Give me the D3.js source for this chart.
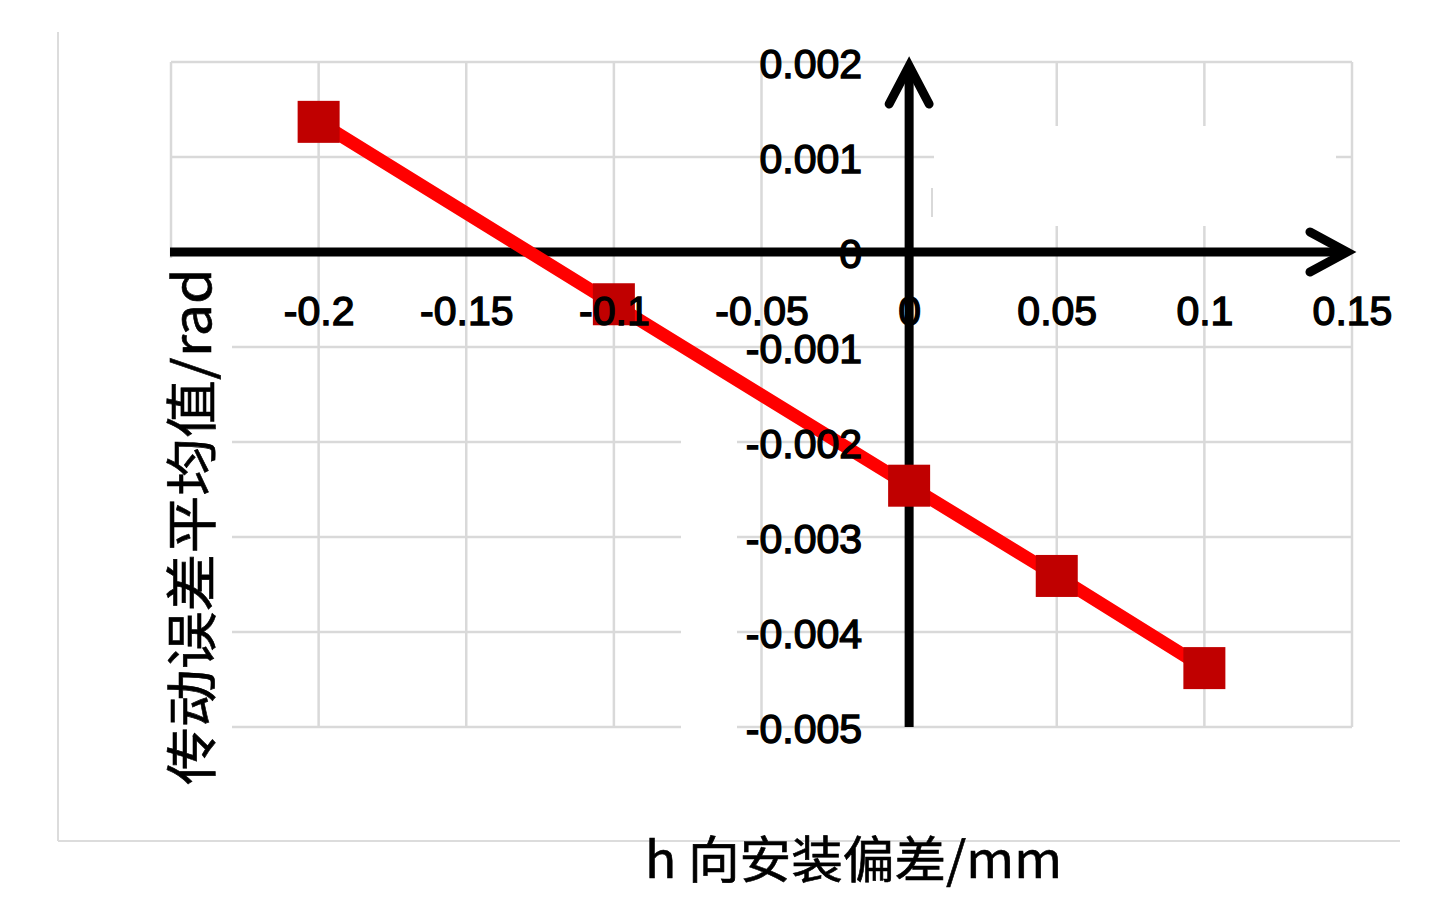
<!DOCTYPE html>
<html>
<head>
<meta charset="utf-8">
<script src="https://cdn.jsdelivr.net/npm/d3@7"></script>
<style>
  html, body { margin: 0; padding: 0; background: #ffffff; }
  svg { display: block; }
</style>
</head>
<body>
<svg id="chart" width="1455" height="922"></svg>
<script>
// ---------- data ----------
const xValues = [-0.2, -0.1, 0, 0.05, 0.1];
const yValues = [0.00137, -0.00055, -0.00246, -0.00341, -0.00438];

const xTicks = [-0.2, -0.15, -0.1, -0.05, 0, 0.05, 0.1, 0.15];
const xTickLabels = ["-0.2", "-0.15", "-0.1", "-0.05", "0", "0.05", "0.1", "0.15"];
const xGrid = [-0.25, -0.2, -0.15, -0.1, -0.05, 0, 0.05, 0.1, 0.15];

const yTicks = [0.002, 0.001, 0, -0.001, -0.002, -0.003, -0.004, -0.005];
const yTickLabels = ["0.002", "0.001", "0", "-0.001", "-0.002", "-0.003", "-0.004", "-0.005"];

const xTitle = "h 向安装偏差/mm";
const yTitle = "传动误差平均值/rad";

// ---------- setup ----------
const svg = d3.select("#chart");
const x = d3.scaleLinear().domain([-0.25, 0.15]).range([171, 1352]);
const y = d3.scaleLinear().domain([-0.005, 0.002]).range([727, 62]);

const gridColor = "#d9d9d9";
const labelFont = "'Liberation Sans', Arial, sans-serif";
const cjkFont = "'Noto Sans CJK SC', 'Noto Sans', sans-serif";

// outer frame (left and bottom edges)
svg.append("line").attr("x1", 58).attr("x2", 58).attr("y1", 32).attr("y2", 841)
  .attr("stroke", "#dcdcdc").attr("stroke-width", 2);
svg.append("line").attr("x1", 58).attr("x2", 1400).attr("y1", 841).attr("y2", 841)
  .attr("stroke", "#dcdcdc").attr("stroke-width", 2);

// gridlines
const grid = svg.append("g");
grid.selectAll("line.v").data(xGrid).join("line").attr("class", "v")
  .attr("x1", d => x(d)).attr("x2", d => x(d))
  .attr("y1", y(0.002)).attr("y2", y(-0.005))
  .attr("stroke", gridColor).attr("stroke-width", 2.5);
grid.selectAll("line.h").data(yTicks).join("line").attr("class", "h")
  .attr("x1", x(-0.25)).attr("x2", x(0.15))
  .attr("y1", d => y(d)).attr("y2", d => y(d))
  .attr("stroke", gridColor).attr("stroke-width", 2.5);

// white patches present in the reference image
svg.append("rect").attr("x", 934).attr("y", 126).attr("width", 402).attr("height", 100).attr("fill", "#fff");
svg.append("line").attr("x1", 932).attr("x2", 932).attr("y1", 188).attr("y2", 217)
  .attr("stroke", gridColor).attr("stroke-width", 2);
svg.append("rect").attr("x", 681).attr("y", 400).attr("width", 56).attr("height", 340).attr("fill", "#fff");
// background box of the y title
svg.append("rect").attr("x", 158).attr("y", 258).attr("width", 74).attr("height", 545).attr("fill", "#fff");

// axes lines with open arrow heads
const axisW = 9;
svg.append("line").attr("x1", x(-0.25) - 1).attr("x2", 1346).attr("y1", y(0)).attr("y2", y(0))
  .attr("stroke", "#000").attr("stroke-width", axisW);
svg.append("path")
  .attr("d", `M1310,${y(0) - 20} L1347,${y(0)} L1310,${y(0) + 20}`)
  .attr("fill", "none").attr("stroke", "#000").attr("stroke-width", axisW)
  .attr("stroke-linecap", "round").attr("stroke-linejoin", "miter");
svg.append("line").attr("x1", x(0)).attr("x2", x(0)).attr("y1", y(-0.005)).attr("y2", 68)
  .attr("stroke", "#000").attr("stroke-width", axisW);
svg.append("path")
  .attr("d", `M${x(0) - 20},104 L${x(0)},66 L${x(0) + 20},104`)
  .attr("fill", "none").attr("stroke", "#000").attr("stroke-width", axisW)
  .attr("stroke-linecap", "round").attr("stroke-linejoin", "miter");

// data line
const pts = xValues.map((d, i) => [d, yValues[i]]);
svg.append("path").datum(pts)
  .attr("d", d3.line().x(d => x(d[0])).y(d => y(d[1])))
  .attr("fill", "none").attr("stroke", "#ff0000").attr("stroke-width", 13)
  .attr("stroke-linejoin", "miter");
const ms = 42;
svg.selectAll("rect.marker").data(pts).join("rect").attr("class", "marker")
  .attr("x", d => x(d[0]) - ms / 2).attr("y", d => y(d[1]) - ms / 2)
  .attr("width", ms).attr("height", ms).attr("fill", "#c00000");

// tick labels via d3 axes
const xAxis = d3.axisBottom(x).tickValues(xTicks).tickSize(0).tickPadding(44)
  .tickFormat((d, i) => xTickLabels[i]);
const gx = svg.append("g").attr("transform", `translate(0,${y(0)})`).call(xAxis);
gx.select(".domain").remove();
gx.selectAll("text").attr("font-family", labelFont).attr("font-size", 41)
  .attr("fill", "#000").attr("stroke", "#000").attr("stroke-width", 1.4);

const yAxis = d3.axisLeft(y).tickValues(yTicks).tickSize(0).tickPadding(47)
  .tickFormat((d, i) => yTickLabels[i]);
const gy = svg.append("g").attr("transform", `translate(${x(0)},0)`).call(yAxis);
gy.select(".domain").remove();
gy.selectAll("text").attr("font-family", labelFont).attr("font-size", 41).attr("dy", "0.37em")
  .attr("fill", "#000").attr("stroke", "#000").attr("stroke-width", 1.4);

// titles
svg.append("text").text(xTitle)
  .attr("x", 645).attr("y", 878)
  .attr("font-family", cjkFont).attr("font-size", 50)
  .attr("textLength", 417).attr("lengthAdjust", "spacingAndGlyphs")
  .attr("fill", "#000").attr("stroke", "#000").attr("stroke-width", 0.6);

svg.append("text").text(yTitle)
  .attr("transform", "translate(211,785) rotate(-90)")
  .attr("x", 0).attr("y", 0)
  .attr("font-family", cjkFont).attr("font-size", 52)
  .attr("textLength", 517).attr("lengthAdjust", "spacingAndGlyphs")
  .attr("fill", "#000").attr("stroke", "#000").attr("stroke-width", 0.6);
</script>
</body>
</html>
